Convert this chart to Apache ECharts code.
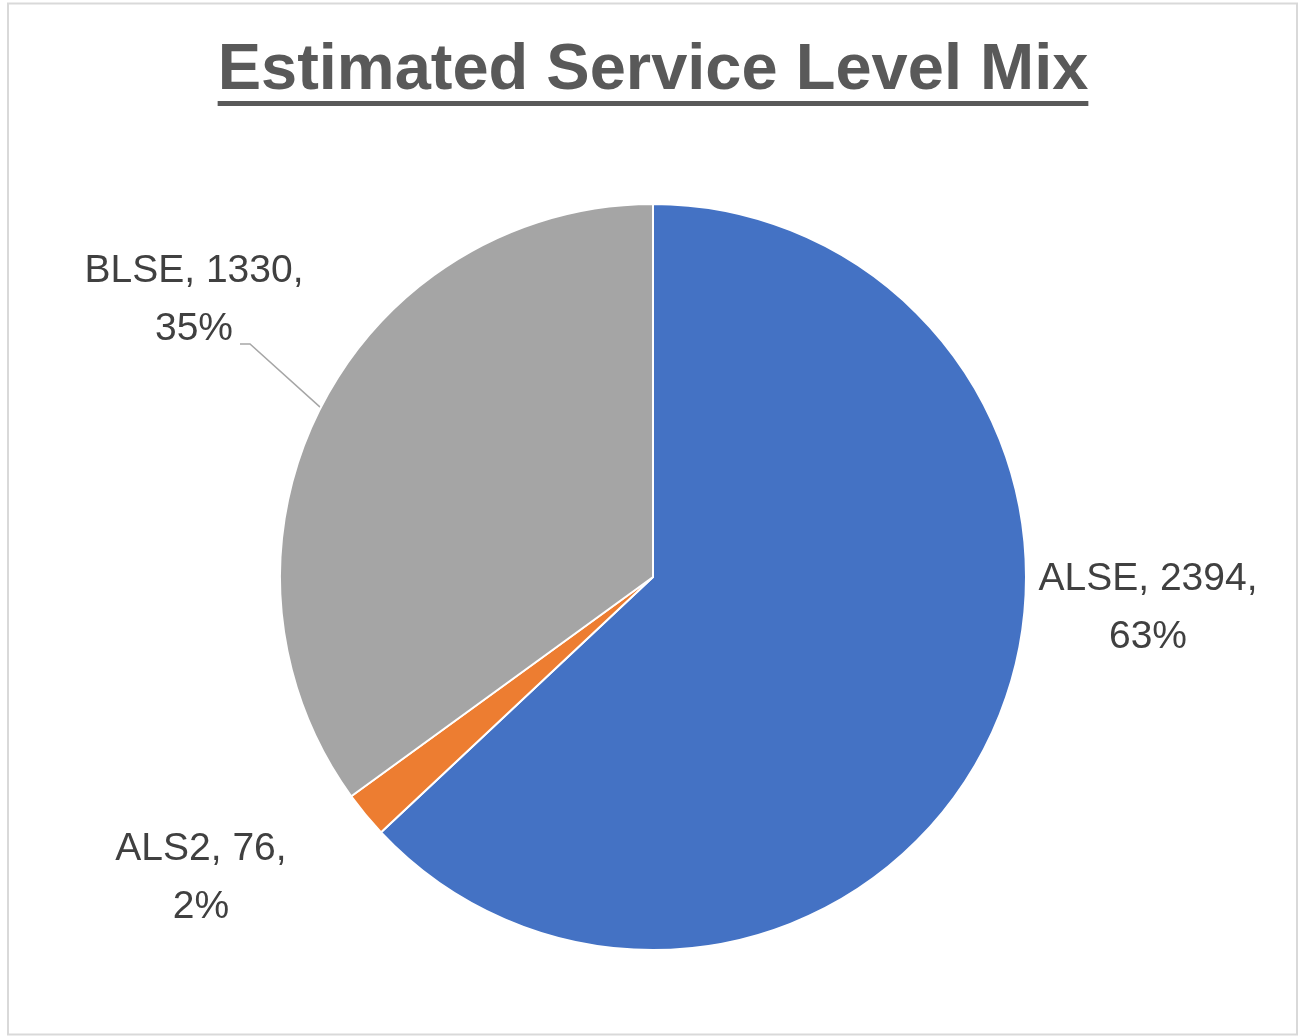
<!DOCTYPE html>
<html>
<head>
<meta charset="utf-8">
<title>Estimated Service Level Mix</title>
<script src="https://cdn.jsdelivr.net/npm/echarts@6/dist/echarts.min.js"></script>
<style>
  html, body { margin: 0; padding: 0; background: #ffffff; }
  #chart { width: 1301px; height: 1036px; }
</style>
</head>
<body>
<div id="chart"></div>
<script>
// Service level mix data
const categories = ['ALSE', 'ALS2', 'BLSE'];
const counts = [2394, 76, 1330];
const sliceColors = ['#4472C4', '#ED7D31', '#A5A5A5'];
const titleText = 'Estimated Service Level Mix';

// Layout settings
const pieCenter = [653, 577];
const pieRadius = 373;
const labelSpots = [[1148, 608], [201, 878], [194, 300]];
// leader line elbow, relative to its label's centre
const leaderElbow = [[56, 44], [46, 44]];
const titleFont = 'bold 65px "Liberation Sans"';
const titleBottom = 104;

// measure the title so the underline spans exactly its width
const ctx = document.createElement('canvas').getContext('2d');
ctx.font = titleFont;
const titleWidth = ctx.measureText(titleText).width;

const chart = echarts.init(document.getElementById('chart'), null, { renderer: 'canvas' });

const pieData = categories.map((name, i) => ({
  name: name,
  value: counts[i],
  itemStyle: { color: sliceColors[i] },
  labelLine: { show: name === 'BLSE' }
}));

chart.setOption({
  animation: false,
  backgroundColor: '#ffffff',
  graphic: [
    {
      type: 'rect',
      shape: { x: 8, y: 3.5, width: 1289, height: 1031 },
      style: { fill: 'none', stroke: '#D9D9D9', lineWidth: 2 },
      silent: true
    },
    {
      type: 'text',
      x: pieCenter[0],
      y: titleBottom,
      style: {
        text: titleText,
        font: titleFont,
        fill: '#595959',
        align: 'center',
        verticalAlign: 'bottom'
      },
      silent: true
    },
    {
      type: 'rect',
      shape: { x: pieCenter[0] - titleWidth / 2, y: 101, width: titleWidth, height: 5 },
      style: { fill: '#595959' },
      silent: true
    }
  ],
  series: [
    {
      type: 'pie',
      center: pieCenter,
      radius: pieRadius,
      startAngle: 90,
      clockwise: true,
      avoidLabelOverlap: false,
      percentPrecision: 0,
      data: pieData,
      itemStyle: { borderColor: '#ffffff', borderWidth: 2 },
      emphasis: { disabled: true },
      label: {
        show: true,
        position: 'outside',
        formatter: '{b}, {c},\n{d}%',
        fontFamily: 'Liberation Sans',
        fontSize: 39,
        lineHeight: 58,
        color: '#404040'
      },
      labelLine: {
        length: 20,
        length2: 10,
        lineStyle: { color: '#A6A6A6', width: 1.5 }
      },
      labelLayout: function (params) {
        const spot = labelSpots[params.dataIndex];
        const layout = { x: spot[0], y: spot[1], align: 'center', verticalAlign: 'middle' };
        const pts = params.labelLinePoints;
        if (pts && categories[params.dataIndex] === 'BLSE') {
          layout.labelLinePoints = [
            pts[0],
            [spot[0] + leaderElbow[0][0], spot[1] + leaderElbow[0][1]],
            [spot[0] + leaderElbow[1][0], spot[1] + leaderElbow[1][1]]
          ];
        }
        return layout;
      }
    }
  ]
});
</script>
</body>
</html>
